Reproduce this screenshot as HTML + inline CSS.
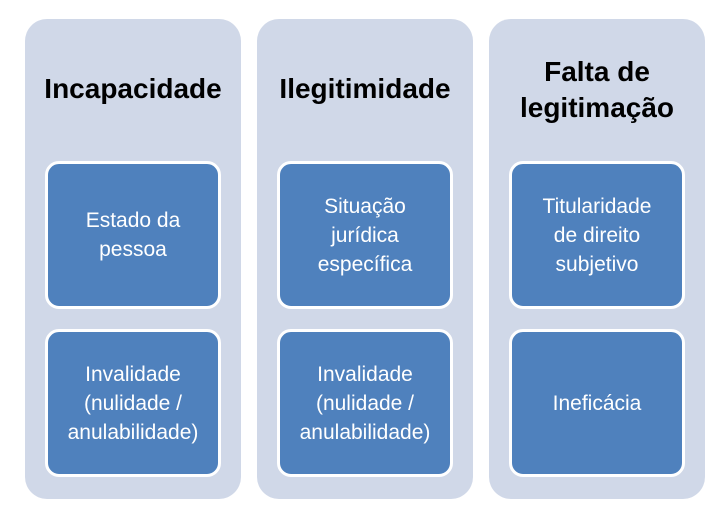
<!DOCTYPE html>
<html><head><meta charset="utf-8"><style>
body{margin:0;width:725px;height:516px;background:#fff;position:relative;overflow:hidden;font-family:"Liberation Sans",sans-serif}
.col{position:absolute;top:19px;width:216px;height:480px;background:#d0d8e8;border-radius:22px}
.t{position:absolute;left:0;width:216px;text-align:center;font-weight:bold;font-size:28px;color:#000;line-height:36px}
.b{position:absolute;left:20px;width:170px;height:142px;background:#4f81bd;border:3px solid #fff;border-radius:14px;display:flex;align-items:center;justify-content:center;text-align:center;color:#fff;font-size:21px;line-height:29px}
</style></head><body>
<div class="col" style="left:25px">
<div class="t" style="top:52px">Incapacidade</div>
<div class="b" style="top:142px">Estado da<br>pessoa</div>
<div class="b" style="top:310px">Invalidade<br>(nulidade /<br>anulabilidade)</div>
</div>
<div class="col" style="left:257px">
<div class="t" style="top:52px">Ilegitimidade</div>
<div class="b" style="top:142px">Situação<br>jurídica<br>específica</div>
<div class="b" style="top:310px">Invalidade<br>(nulidade /<br>anulabilidade)</div>
</div>
<div class="col" style="left:489px">
<div class="t" style="top:35px">Falta de<br>legitimação</div>
<div class="b" style="top:142px">Titularidade<br>de direito<br>subjetivo</div>
<div class="b" style="top:310px">Ineficácia</div>
</div>
</body></html>
